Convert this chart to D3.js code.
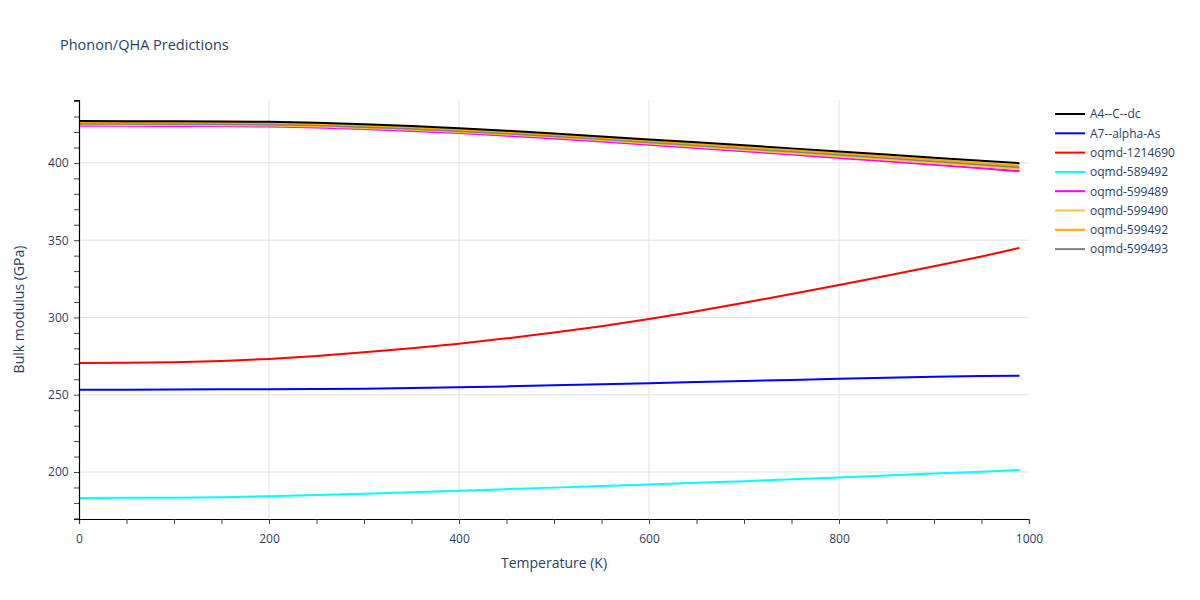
<!DOCTYPE html>
<html><head><meta charset="utf-8">
<script src="https://cdn.jsdelivr.net/npm/d3@7"></script>
<style>body{margin:0;background:#fff;} text{font-family:"Open Sans",verdana,arial,sans-serif;}</style>
</head><body>
<svg id="c" width="1200" height="600"></svg>
<script>
const temps = [0,50,100,150,200,250,300,350,400,450,500,550,600,650,700,750,800,850,900,950,990];
const seriesNames = ["A4--C--dc","A7--alpha-As","oqmd-1214690","oqmd-589492","oqmd-599489","oqmd-599490","oqmd-599492","oqmd-599493"];
const seriesColors = ["#000000","#0000ff","#ff0000","#00ffff","#ff00ff","#f2c53d","#ffa500","#808080"];
const vA4 = [427.1,427.0,426.9,426.8,426.6,426.0,425.0,423.8,422.4,420.8,419.0,417.1,415.2,413.3,411.4,409.4,407.4,405.4,403.4,401.4,399.8];
const vA7 = [253.2,253.3,253.4,253.5,253.6,253.7,253.9,254.3,254.8,255.4,256.1,256.8,257.5,258.2,258.9,259.6,260.3,261.0,261.6,262.1,262.3];
const v1214690 = [270.5,270.7,271.0,271.8,273.2,275.0,277.5,280.0,283.0,286.5,290.2,294.3,299.0,304.0,309.5,315.2,321.0,327.0,333.2,339.4,345.0];
const v589492 = [183.2,183.3,183.4,183.6,184.3,185.1,186.0,186.9,187.9,188.9,189.9,190.9,191.9,193.0,194.1,195.3,196.5,197.8,199.0,200.2,201.3];
const v599489 = [424.1,424.0,423.9,423.8,423.5,422.9,422.0,420.7,419.3,417.6,415.8,413.9,411.8,409.7,407.6,405.4,403.2,401.0,398.8,396.6,394.6];
const v599490 = [424.7,424.6,424.5,424.4,424.2,423.6,422.6,421.4,420.0,418.4,416.6,414.6,412.6,410.5,408.4,406.3,404.2,402.1,400.0,397.8,396.0];
const v599492 = [426.3,426.2,426.1,426.0,425.8,425.2,424.2,423.0,421.6,420.0,418.2,416.3,414.3,412.3,410.3,408.3,406.2,404.1,402.0,399.9,398.3];
const v599493 = [425.4,425.3,425.2,425.1,424.9,424.3,423.3,422.1,420.7,419.1,417.3,415.4,413.4,411.4,409.3,407.3,405.2,403.1,401.0,398.9,397.2];
const seriesValues = [vA4,vA7,v1214690,v589492,v599489,v599490,v599492,v599493];
const xTicks = [0,200,400,600,800,1000];
const yTicks = [200,250,300,350,400];

const svg = d3.select("#c");
const L=79,R=1029,T=100,B=519;
const x = d3.scaleLinear().domain([0,1000]).range([L,R]);
const y = d3.scaleLinear().domain([169.6,440.7]).range([B,T]);
const txt = "#2a3f5f";

// grid
svg.append("g").selectAll("line").data(xTicks.filter(d=>d>0&&d<1000)).join("line")
  .attr("x1",d=>x(d)).attr("x2",d=>x(d)).attr("y1",T).attr("y2",B).attr("stroke","#e2e2e2").attr("stroke-width",1);
svg.append("g").selectAll("line").data(yTicks).join("line")
  .attr("x1",L).attr("x2",R).attr("y1",d=>y(d)).attr("y2",d=>y(d)).attr("stroke","#e2e2e2").attr("stroke-width",1);

// lines
const line = d3.line().x((d,i)=>x(temps[i])).y(d=>y(d));
const order = [1,2,3,4,5,7,6,0];
order.forEach(i=>{
  svg.append("path").datum(seriesValues[i]).attr("d",line).attr("fill","none")
    .attr("stroke",seriesColors[i]).attr("stroke-width",2).attr("stroke-linejoin","round");
});

// axes
const xMinor = d3.range(0,1001,50);
const yMinor = d3.range(170,441,10);
const xa = svg.append("g").attr("transform",`translate(0,${B})`)
  .call(d3.axisBottom(x).tickValues(xMinor).tickSize(5).tickFormat(d=>xTicks.includes(d)?d:""));
const ya = svg.append("g").attr("transform",`translate(${L},0)`)
  .call(d3.axisLeft(y).tickValues(yMinor).tickSize(5).tickFormat(d=>yTicks.includes(d)?d:""));
[xa,ya].forEach(a=>{
  a.select(".domain").attr("stroke","#000").attr("stroke-width",1.2);
  a.selectAll(".tick line").attr("stroke","#444");
  a.selectAll(".tick text").attr("fill",txt).attr("font-size",12).style("font-family",'"Open Sans",verdana,arial,sans-serif');
});
xa.selectAll(".tick text").attr("dy","1.35em");
ya.selectAll(".tick text").attr("dx","-0.2em");

// titles
svg.append("text").attr("x",60).attr("y",50).attr("fill",txt).attr("font-size",14.5).text("Phonon/QHA Predictions");
svg.append("text").attr("x",(L+R)/2).attr("y",568).attr("text-anchor","middle").attr("fill",txt).attr("font-size",14).text("Temperature (K)");
svg.append("text").attr("transform",`translate(24,${(T+B)/2}) rotate(-90)`).attr("text-anchor","middle").attr("fill",txt).attr("font-size",14).text("Bulk modulus (GPa)");

// legend
const lg = svg.append("g");
seriesNames.forEach((n,i)=>{
  const yy = 114 + i*19.3;
  lg.append("line").attr("x1",1055).attr("x2",1085).attr("y1",yy).attr("y2",yy).attr("stroke",seriesColors[i]).attr("stroke-width",2);
  lg.append("text").attr("x",1090).attr("y",yy+4.3).attr("fill",txt).attr("font-size",12).text(n);
});
</script>
</body></html>
